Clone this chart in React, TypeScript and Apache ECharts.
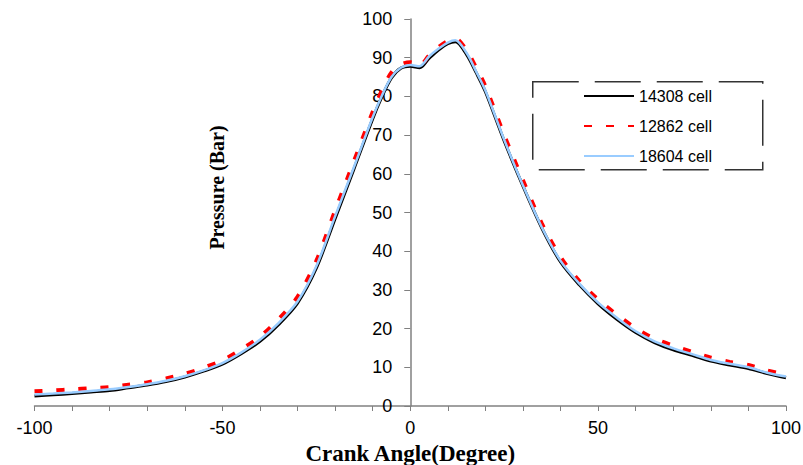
import React, { useEffect, useRef } from "react";
import * as echarts from "echarts";

const angles = [-100, -95, -90, -85, -80, -75, -70, -65, -60, -55, -50, -45, -40, -35, -30, -25, -20, -15, -10, -7.5, -5, -2.5, 0, 2.5, 5, 7.5, 10, 12, 15, 17.5, 20, 25, 30, 35, 40, 45, 50, 55, 60, 65, 70, 75, 80, 85, 90, 95, 100];

const cell14308 = [2.6, 2.9, 3.2, 3.6, 4.0, 4.7, 5.4, 6.3, 7.5, 9.0, 10.8, 13.5, 16.7, 21.1, 26.6, 35.6, 48.4, 61.2, 74.2, 80.0, 84.8, 87.3, 87.8, 87.4, 89.8, 92.0, 93.6, 94.1, 90.8, 86.2, 81.2, 68.5, 56.8, 46.0, 37.2, 31.3, 26.4, 22.4, 19.0, 16.4, 14.5, 13.1, 11.6, 10.6, 9.7, 8.4, 7.3];

const cell12862 = [3.8, 4.0, 4.3, 4.6, 4.9, 5.5, 6.1, 7.1, 8.3, 9.9, 11.8, 14.6, 17.9, 22.5, 28.2, 37.5, 50.5, 63.2, 76.0, 81.6, 86.2, 88.2, 88.8, 88.0, 90.6, 92.7, 94.3, 94.9, 91.9, 87.5, 82.6, 70.0, 58.3, 47.2, 38.5, 32.3, 27.5, 23.6, 20.1, 17.4, 15.6, 14.0, 12.5, 11.4, 10.6, 9.2, 8.1];

const cell18604 = [3.0, 3.2, 3.5, 3.9, 4.3, 4.9, 5.6, 6.5, 7.7, 9.2, 11.1, 13.8, 17.1, 21.5, 27.0, 36.1, 49.0, 61.7, 74.6, 80.3, 85.0, 87.4, 88.1, 87.8, 90.3, 92.3, 93.9, 94.5, 91.2, 86.5, 81.5, 68.8, 57.0, 46.2, 37.5, 31.6, 26.7, 22.8, 19.3, 16.7, 14.9, 13.4, 11.9, 10.9, 10.0, 8.6, 7.6];

const seriesNames = ["14308 cell", "12862 cell", "18604 cell"];

const SANS = "'Liberation Sans', Arial, sans-serif";
const SERIF = "'Liberation Serif', 'Times New Roman', serif";

const GRID_LEFT = 34.5;
const GRID_RIGHT = 17;
const WIDTH = 803;

function pairs(vals: number[]) {
  return angles.map((a, i) => [a, vals[i]]);
}

export default function App() {
  const ref = useRef<HTMLDivElement>(null);
  useEffect(() => {
    if (!ref.current) return;
    const chart = echarts.init(ref.current, undefined, { renderer: "svg" });
    const axisColor = "#808080";
    // y axis sits at x = 0 (middle of the -100..100 range)
    const yOffset = -(WIDTH - GRID_LEFT - GRID_RIGHT) / 2;
    chart.setOption({
      animation: false,
      backgroundColor: "#ffffff",
      grid: { left: GRID_LEFT, right: GRID_RIGHT, top: 19, bottom: 59, containLabel: false, outerBoundsMode: "none" },
      xAxis: {
        type: "value",
        min: -100,
        max: 100,
        interval: 10,
        name: "Crank Angle(Degree)",
        nameLocation: "middle",
        nameGap: 24,
        nameTextStyle: { fontFamily: SERIF, fontWeight: "bold", fontSize: 23, color: "#000" },
        axisLine: { show: true, onZero: false, lineStyle: { color: axisColor, width: 1.5 } },
        axisTick: { show: true, inside: false, length: 5, lineStyle: { color: axisColor, width: 1 } },
        axisLabel: {
          margin: 13,
          fontFamily: SANS,
          fontSize: 18,
          color: "#000",
          formatter: (v: number) => (v % 50 === 0 ? String(v) : ""),
        },
        splitLine: { show: false },
      },
      yAxis: {
        type: "value",
        min: 0,
        max: 100,
        interval: 10,
        offset: yOffset,
        name: "Pressure (Bar)",
        nameLocation: "middle",
        nameGap: 183,
        nameTextStyle: { fontFamily: SERIF, fontWeight: "bold", fontSize: 20, color: "#000", padding: [0, 0, 0, 50] },
        axisLine: { show: true, onZero: false, lineStyle: { color: axisColor, width: 1.5 } },
        axisTick: { show: true, inside: false, length: 6, lineStyle: { color: axisColor, width: 1 } },
        axisLabel: { margin: 18, fontFamily: SANS, fontSize: 18, color: "#000" },
        splitLine: { show: false },
      },
      legend: {
        data: seriesNames,
        orient: "vertical",
        left: 583,
        top: 88,
        padding: 0,
        itemWidth: 50,
        itemHeight: 14,
        itemGap: 14,
        itemStyle: { opacity: 0 },
        textStyle: { fontFamily: SANS, fontSize: 16, color: "#000" },
      },
      graphic: [
        {
          type: "rect",
          left: 532,
          top: 81,
          shape: { width: 230, height: 88 },
          style: { fill: "transparent", stroke: "#333333", lineWidth: 1.5, lineDash: [46, 16] },
          silent: true,
          z: 10,
        },
      ],
      series: [
        {
          name: seriesNames[0],
          type: "line",
          data: pairs(cell14308),
          showSymbol: false,
          symbol: "none",
          smooth: 0.3,
          lineStyle: { color: "#000000", width: 3 },
          itemStyle: { color: "#000000" },
          z: 2,
        },
        {
          name: seriesNames[1],
          type: "line",
          data: pairs(cell12862),
          showSymbol: false,
          symbol: "none",
          smooth: 0.3,
          lineStyle: { color: "#ff0000", width: 4, type: [8, 14] },
          itemStyle: { color: "#ff0000" },
          z: 3,
        },
        {
          name: seriesNames[2],
          type: "line",
          data: pairs(cell18604),
          showSymbol: false,
          symbol: "none",
          smooth: 0.3,
          lineStyle: { color: "#99ccff", width: 2.5 },
          itemStyle: { color: "#99ccff" },
          z: 4,
        },
      ],
    });
    return () => chart.dispose();
  }, []);
  return (
    <div
      ref={ref}
      style={{ position: "fixed", left: 0, top: 0, width: 803, height: 465, background: "#fff" }}
    />
  );
}
